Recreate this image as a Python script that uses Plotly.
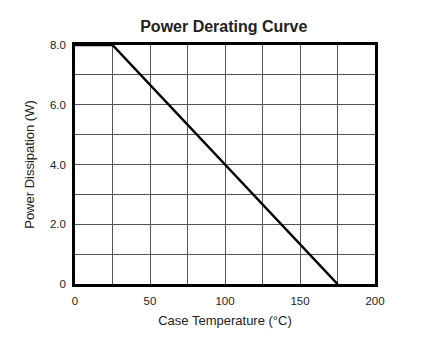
import plotly.graph_objects as go

temperature = [0, 25, 175]
power = [8.0, 8.0, 0.0]
x_ticks = [0, 50, 100, 150, 200]
y_ticks = [0, 2, 4, 6, 8]
y_tick_labels = ["0", "2.0", "4.0", "6.0", "8.0"]

font_family = "Liberation Sans, Arial, sans-serif"

fig = go.Figure()
fig.add_trace(go.Scatter(
    x=temperature, y=power, mode="lines",
    line=dict(color="black", width=2.5),
    showlegend=False, hoverinfo="skip",
))

fig.update_layout(
    width=432, height=342,
    margin=dict(l=75, r=57, t=45, b=58),
    paper_bgcolor="white", plot_bgcolor="white",
    title=dict(text="<b>Power Derating Curve</b>", x=0.518, xanchor="center",
               y=1 - 26 / 342, yanchor="middle",
               font=dict(family=font_family, size=16, color="#222")),
    font=dict(family=font_family, size=11.5, color="#222"),
)

grid_color = "#555"
fig.update_xaxes(
    range=[0, 200], tickvals=x_ticks, ticks="", showgrid=True,
    gridcolor=grid_color, gridwidth=1.3,
    minor=dict(dtick=25, tick0=0, showgrid=True, gridcolor=grid_color, gridwidth=1.3),
    showline=True, linecolor="black", linewidth=2.5, mirror=True,
    zeroline=False, ticklabelstandoff=4,
    title=dict(text="Case Temperature (°C)", font=dict(size=13), standoff=11),
)
fig.update_yaxes(
    range=[0, 8], tickvals=y_ticks, ticktext=y_tick_labels, ticks="", showgrid=True,
    gridcolor=grid_color, gridwidth=1.3,
    minor=dict(dtick=1, tick0=0, showgrid=True, gridcolor=grid_color, gridwidth=1.3),
    showline=True, linecolor="black", linewidth=2.5, mirror=True,
    zeroline=False, ticklabelstandoff=4,
    title=dict(text="Power Dissipation (W)", font=dict(size=13), standoff=13),
)

fig.write_html("out.html")
